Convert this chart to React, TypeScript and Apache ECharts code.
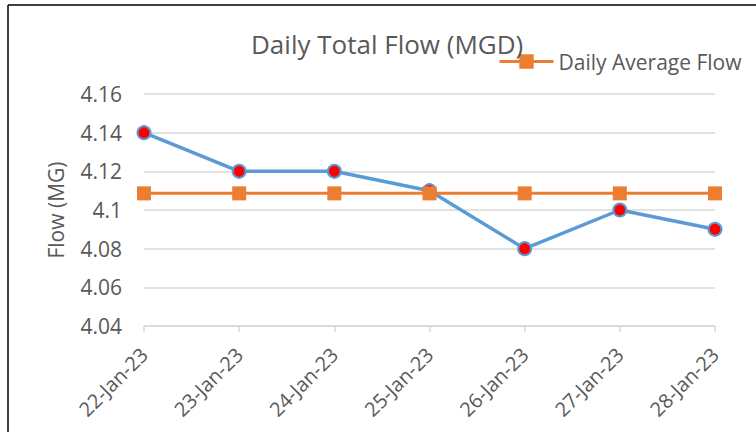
import React, { useEffect, useRef } from "react";
import * as echarts from "echarts";

const categories = ["22-Jan-23", "23-Jan-23", "24-Jan-23", "25-Jan-23", "26-Jan-23", "27-Jan-23", "28-Jan-23"];
const dailyFlow = [4.14, 4.12, 4.12, 4.11, 4.08, 4.1, 4.09];
const averageFlow = [4.1086, 4.1086, 4.1086, 4.1086, 4.1086, 4.1086, 4.1086];
const yTicks = { min: 4.04, max: 4.16, interval: 0.02 };

const FONT = "'Open Sans', sans-serif";
const TEXT = "#595959";

export default function App() {
  const ref = useRef<HTMLDivElement>(null);
  useEffect(() => {
    document.body.style.margin = "0";
    const chart = echarts.init(ref.current!, null, { renderer: "svg" });
    chart.setOption({
      animation: false,
      backgroundColor: "#ffffff",
      textStyle: { fontFamily: FONT },
      title: {
        text: "Daily Total Flow (MGD)",
        left: 246,
        top: 26,
        textStyle: { fontFamily: FONT, fontSize: 26, fontWeight: "normal", color: TEXT },
      },
      legend: {
        data: ["Daily Average Flow"],
        left: 498,
        top: 51,
        padding: 0,
        itemWidth: 54,
        itemHeight: 18,
        lineStyle: { width: 3 },
        textStyle: { fontFamily: FONT, fontSize: 21, color: TEXT },
      },
      grid: { left: 144, right: 41, top: 94, bottom: 106, containLabel: false },
      xAxis: {
        type: "category",
        data: categories,
        boundaryGap: false,
        axisLine: { lineStyle: { color: "#d9d9d9", width: 1.5 } },
        axisTick: { show: true, length: 6, lineStyle: { color: "#d9d9d9", width: 1.5 } },
        axisLabel: { rotate: 45, fontFamily: FONT, fontSize: 20, color: TEXT, margin: 25 },
      },
      yAxis: {
        type: "value",
        min: yTicks.min,
        max: yTicks.max,
        interval: yTicks.interval,
        name: "Flow (MG)",
        nameLocation: "middle",
        nameGap: 78,
        nameTextStyle: { fontFamily: FONT, fontSize: 21, color: TEXT },
        axisLine: { show: false },
        axisTick: { show: false },
        splitLine: { lineStyle: { color: "#d9d9d9", width: 1.5 } },
        axisLabel: {
          fontFamily: FONT,
          fontSize: 21,
          color: TEXT,
          margin: 22,
          formatter: (v: number) => String(parseFloat(v.toFixed(2))),
        },
      },
      series: [
        {
          name: "Daily Total Flow",
          type: "line",
          data: dailyFlow,
          symbol: "circle",
          symbolSize: 13,
          lineStyle: { color: "#5B9BD5", width: 3.5 },
          itemStyle: { color: "#FF0000", borderColor: "#5B9BD5", borderWidth: 2 },
          z: 2,
        },
        {
          name: "Daily Average Flow",
          type: "line",
          data: averageFlow,
          symbol: "rect",
          symbolSize: 14,
          lineStyle: { color: "#ED7D31", width: 3 },
          itemStyle: { color: "#ED7D31" },
          z: 3,
        },
      ],
      graphic: [
        { type: "line", shape: { x1: 8, y1: 5, x2: 756, y2: 5 }, style: { stroke: "#000", lineWidth: 1.5 } },
        { type: "line", shape: { x1: 8, y1: 5, x2: 8, y2: 432 }, style: { stroke: "#000", lineWidth: 1.5 } },
      ],
    });
    return () => chart.dispose();
  }, []);
  return <div ref={ref} style={{ width: 756, height: 432 }} />;
}
